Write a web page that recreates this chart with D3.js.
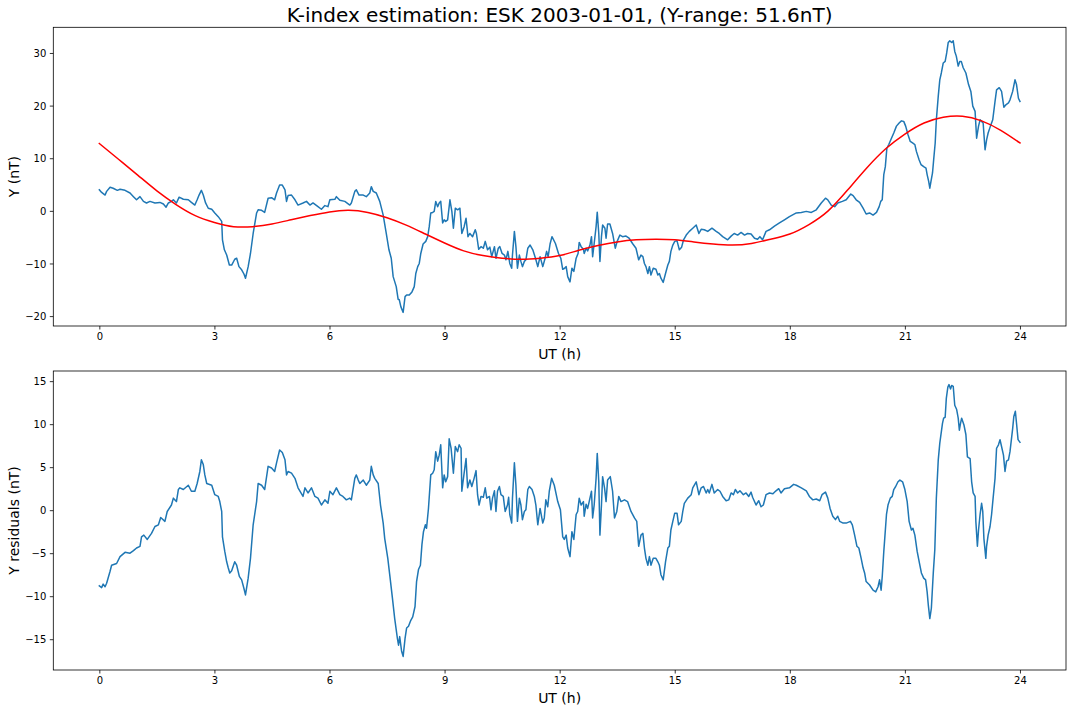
<!DOCTYPE html>
<html><head><meta charset="utf-8">
<script src="https://cdn.jsdelivr.net/npm/d3@7"></script>
<style>body{margin:0;background:#fff} text{font-family:"DejaVu Sans",sans-serif;fill:#000}</style>
</head><body><svg id="c" width="1072" height="712"></svg>
<script>
// ---- data (hour, value) ----
const titleText = "K-index estimation: ESK 2003-01-01, (Y-range: 51.6nT)";
const xTicks = [0,3,6,9,12,15,18,21,24];
const yTicksTop = [-20,-10,0,10,20,30];
const yTicksRes = [-15,-10,-5,0,5,10,15];

const observedY = [
[0,4.0],[0.06,3.5],[0.15,3.0],[0.19,3.7],[0.28,4.5],[0.36,4.3],[0.47,3.9],[0.54,4.1],[0.67,3.9],[0.8,3.4],[0.89,2.7],[0.97,2.1],[1.06,2.7],[1.15,1.8],[1.23,1.5],[1.32,1.8],[1.45,1.5],[1.58,1.6],[1.67,1.3],[1.74,0.7],[1.8,1.5],[1.88,1.8],[1.93,2.1],[2.01,1.5],[2.08,2.6],[2.19,2.2],[2.32,2.1],[2.4,1.6],[2.49,1.1],[2.55,2.1],[2.6,3.0],[2.66,3.9],[2.71,3.0],[2.77,1.5],[2.84,0.5],[2.93,0.3],[3.01,-0.4],[3.1,-1.1],[3.19,-2.0],[3.21,-5.5],[3.26,-7.4],[3.32,-8.4],[3.39,-10.3],[3.45,-10.3],[3.53,-9.2],[3.58,-9.0],[3.64,-10.6],[3.71,-11.2],[3.77,-12.0],[3.81,-12.8],[3.88,-10.6],[3.94,-8.1],[4.01,-4.3],[4.1,-0.4],[4.14,0.2],[4.23,0.1],[4.31,-0.3],[4.4,2.4],[4.49,2.5],[4.57,2.1],[4.62,3.4],[4.7,4.9],[4.77,4.9],[4.84,4.0],[4.88,1.8],[4.92,2.9],[5.01,3.0],[5.1,2.1],[5.18,1.1],[5.31,1.5],[5.4,1.8],[5.49,1.1],[5.57,1.5],[5.7,0.8],[5.79,0.3],[5.88,1.0],[5.96,0.8],[6.01,2.1],[6.14,2.2],[6.18,2.7],[6.27,2.0],[6.4,1.8],[6.53,1.1],[6.57,1.5],[6.66,3.7],[6.7,4.0],[6.77,3.0],[6.88,3.0],[6.96,2.7],[7.05,3.4],[7.09,4.6],[7.14,3.7],[7.22,3.4],[7.31,1.8],[7.4,-0.8],[7.48,-4.3],[7.55,-7.4],[7.61,-9.0],[7.66,-12.5],[7.74,-14.4],[7.79,-16.8],[7.82,-16.9],[7.86,-18.2],[7.92,-19.3],[7.97,-16.3],[8.01,-16.0],[8.08,-16.0],[8.15,-15.4],[8.21,-14.4],[8.25,-11.9],[8.3,-10.6],[8.34,-10.0],[8.38,-8.1],[8.44,-6.3],[8.51,-5.8],[8.56,-4.9],[8.6,-3.0],[8.64,-0.4],[8.69,-0.3],[8.73,-0.1],[8.77,1.8],[8.82,0.8],[8.86,1.5],[8.9,1.8],[8.95,-2.3],[8.99,-1.7],[9.03,-2.0],[9.08,-1.7],[9.14,2.1],[9.19,-0.1],[9.23,-3.3],[9.28,0.5],[9.34,0.2],[9.4,0.5],[9.45,-4.3],[9.51,-3.0],[9.56,-1.4],[9.61,-4.9],[9.66,-4.3],[9.73,-4.9],[9.8,-3.6],[9.83,-4.3],[9.89,-7.3],[9.95,-6.8],[10.01,-7.1],[10.06,-5.8],[10.12,-7.4],[10.18,-6.9],[10.23,-8.7],[10.3,-6.8],[10.34,-9.0],[10.4,-7.1],[10.44,-6.8],[10.5,-8.1],[10.56,-8.4],[10.6,-9.3],[10.65,-7.7],[10.7,-10.0],[10.75,-10.9],[10.77,-8.4],[10.82,-3.9],[10.86,-6.8],[10.9,-10.9],[10.95,-8.4],[10.99,-9.6],[11.03,-10.6],[11.08,-9.6],[11.12,-9.3],[11.17,-7.1],[11.23,-6.5],[11.3,-7.4],[11.37,-9.0],[11.43,-10.6],[11.49,-8.7],[11.56,-10.6],[11.61,-9.3],[11.66,-7.7],[11.7,-8.7],[11.75,-6.3],[11.8,-4.9],[11.89,-6.2],[11.97,-8.1],[12.03,-9.0],[12.08,-11.1],[12.13,-10.9],[12.17,-10.6],[12.21,-12.5],[12.27,-13.5],[12.32,-10.9],[12.37,-11.5],[12.43,-9.0],[12.48,-8.1],[12.51,-6.0],[12.56,-6.8],[12.62,-7.3],[12.64,-8.1],[12.69,-7.1],[12.73,-7.6],[12.79,-6.5],[12.83,-4.9],[12.86,-8.7],[12.9,-6.2],[12.95,-3.0],[12.98,-0.25],[13.02,-4.3],[13.05,-9.6],[13.09,-4.9],[13.12,-2.7],[13.18,-3.3],[13.21,-5.2],[13.25,-2.5],[13.31,-2.5],[13.38,-4.3],[13.45,-7.1],[13.5,-5.8],[13.57,-4.6],[13.64,-4.9],[13.73,-4.8],[13.81,-5.2],[13.9,-6.2],[13.99,-7.1],[14.06,-9.3],[14.12,-8.4],[14.17,-8.7],[14.21,-10.0],[14.25,-10.6],[14.3,-11.9],[14.34,-10.6],[14.38,-12.2],[14.44,-10.9],[14.51,-11.1],[14.56,-12.2],[14.6,-11.9],[14.64,-12.8],[14.7,-13.6],[14.76,-11.9],[14.82,-10.3],[14.86,-9.6],[14.9,-7.7],[14.95,-6.5],[15.0,-5.8],[15.06,-5.7],[15.12,-7.4],[15.18,-6.9],[15.23,-5.5],[15.3,-4.6],[15.38,-3.9],[15.47,-3.3],[15.56,-2.7],[15.63,-4.3],[15.69,-3.5],[15.77,-3.6],[15.86,-3.9],[15.97,-3.3],[16.08,-3.9],[16.16,-4.3],[16.25,-4.9],[16.38,-5.5],[16.47,-4.8],[16.55,-4.3],[16.64,-4.6],[16.73,-4.1],[16.82,-4.6],[16.9,-4.3],[16.99,-4.4],[17.08,-5.2],[17.16,-5.4],[17.22,-4.9],[17.29,-5.5],[17.38,-3.9],[17.47,-3.6],[17.6,-2.9],[17.73,-2.3],[17.86,-1.7],[17.99,-1.1],[18.17,-0.4],[18.3,-0.3],[18.43,-0.1],[18.56,-0.3],[18.69,0.2],[18.82,1.5],[18.93,2.4],[18.99,2.1],[19.08,1.1],[19.17,0.8],[19.25,1.5],[19.37,1.8],[19.47,2.1],[19.59,3.2],[19.65,2.9],[19.73,2.1],[19.82,1.6],[19.91,0.5],[19.99,-0.6],[20.08,-0.4],[20.17,-0.8],[20.26,-0.3],[20.33,0.8],[20.37,1.8],[20.41,2.1],[20.45,6.9],[20.49,8.4],[20.53,11.9],[20.58,12.6],[20.65,13.8],[20.71,14.8],[20.78,16.1],[20.85,16.7],[20.91,17.1],[20.97,17.0],[21.02,16.1],[21.08,14.5],[21.14,13.2],[21.2,12.9],[21.26,12.6],[21.3,11.3],[21.37,9.7],[21.42,8.8],[21.49,8.4],[21.55,8.1],[21.58,6.9],[21.62,5.6],[21.65,4.3],[21.68,5.6],[21.72,7.2],[21.75,9.7],[21.79,12.9],[21.82,17.3],[21.87,21.8],[21.91,24.9],[21.95,26.2],[22.0,28.1],[22.05,28.4],[22.09,30.0],[22.13,32.0],[22.17,32.3],[22.22,32.0],[22.26,32.3],[22.3,30.3],[22.34,29.4],[22.39,27.5],[22.43,28.4],[22.47,28.4],[22.52,27.2],[22.59,26.2],[22.66,24.0],[22.72,22.7],[22.77,19.9],[22.83,18.9],[22.87,13.8],[22.92,16.1],[22.96,17.3],[23.0,17.0],[23.04,16.7],[23.09,11.6],[23.13,13.5],[23.17,14.8],[23.23,16.1],[23.29,17.3],[23.35,20.8],[23.39,23.0],[23.46,23.4],[23.52,22.7],[23.58,19.7],[23.64,20.2],[23.7,20.5],[23.74,21.1],[23.81,22.7],[23.87,24.9],[23.91,24.0],[23.96,21.4],[24.0,20.8]
];

const fittedY = [
[0,12.8],[0.5,9.8],[1,6.8],[1.5,3.8],[2,1.2],[2.5,-0.9],[3,-2.2],[3.5,-3.0],[4,-3.0],[4.5,-2.5],[5,-1.7],[5.5,-0.9],[6,-0.2],[6.5,0.1],[7,-0.3],[7.5,-1.3],[8,-2.7],[8.5,-4.4],[9,-6.1],[9.5,-7.6],[10,-8.5],[10.5,-9.0],[11,-9.2],[11.5,-9.0],[12,-8.5],[12.5,-7.5],[13,-6.6],[13.5,-5.9],[14,-5.5],[14.5,-5.4],[15,-5.5],[15.5,-5.9],[16,-6.3],[16.5,-6.5],[17,-6.2],[17.5,-5.4],[18,-4.4],[18.5,-2.6],[19,0.0],[19.5,3.9],[20,8.1],[20.5,11.8],[21,14.6],[21.5,16.7],[22,17.8],[22.5,18.0],[23,17.1],[23.5,15.3],[24,12.9]
];

const residualY = [
[0,-8.8],[0.06,-9.0],[0.1,-8.6],[0.15,-8.9],[0.19,-8.5],[0.28,-7.1],[0.32,-6.4],[0.45,-6.2],[0.54,-5.4],[0.67,-4.9],[0.8,-5.0],[0.89,-4.7],[0.97,-4.4],[1.06,-4.2],[1.1,-3.1],[1.16,-2.9],[1.25,-3.4],[1.36,-2.7],[1.45,-1.9],[1.54,-1.7],[1.6,-0.85],[1.71,-1.3],[1.77,-0.15],[1.88,0.6],[1.93,1.4],[2.01,1.0],[2.06,2.4],[2.1,2.6],[2.19,2.4],[2.32,2.9],[2.4,2.2],[2.49,2.2],[2.55,3.1],[2.62,4.5],[2.66,5.85],[2.71,5.3],[2.75,4.1],[2.8,3.1],[2.93,2.9],[3.01,1.8],[3.1,1.6],[3.14,1.0],[3.19,-0.15],[3.21,-3.1],[3.27,-4.8],[3.32,-6.0],[3.36,-6.7],[3.4,-7.3],[3.45,-7.05],[3.53,-6.0],[3.58,-6.4],[3.65,-7.7],[3.71,-8.1],[3.77,-9.1],[3.81,-9.85],[3.88,-7.9],[3.94,-5.6],[4.01,-1.7],[4.1,1.0],[4.14,3.1],[4.23,2.9],[4.31,2.4],[4.4,5.1],[4.49,4.9],[4.57,4.5],[4.62,5.5],[4.7,7.0],[4.77,6.7],[4.84,5.85],[4.88,4.1],[4.92,4.5],[5.01,4.3],[5.1,3.7],[5.18,2.6],[5.31,1.6],[5.36,2.6],[5.44,2.0],[5.53,2.6],[5.62,1.6],[5.7,1.4],[5.79,0.6],[5.88,1.2],[5.96,0.8],[6.01,2.2],[6.09,1.8],[6.18,2.6],[6.27,1.8],[6.35,1.6],[6.44,1.2],[6.53,1.4],[6.57,1.2],[6.66,3.7],[6.7,4.1],[6.75,3.5],[6.79,3.1],[6.88,3.5],[6.96,2.9],[7.05,3.5],[7.09,5.1],[7.14,4.1],[7.18,3.7],[7.27,3.1],[7.33,0.6],[7.4,-1.5],[7.44,-3.3],[7.52,-5.6],[7.57,-7.5],[7.64,-10.2],[7.7,-12.6],[7.77,-14.9],[7.8,-15.7],[7.83,-14.7],[7.88,-16.4],[7.92,-17.0],[7.97,-14.9],[8.01,-13.7],[8.06,-13.5],[8.12,-12.8],[8.17,-12.4],[8.23,-11.2],[8.27,-8.3],[8.32,-6.9],[8.37,-6.4],[8.41,-4.0],[8.45,-2.5],[8.5,-1.7],[8.53,-2.1],[8.58,0.2],[8.64,4.1],[8.69,4.3],[8.73,4.7],[8.77,6.8],[8.82,5.7],[8.86,6.4],[8.9,7.6],[8.95,2.6],[8.99,4.1],[9.03,3.3],[9.08,3.9],[9.12,8.3],[9.17,7.2],[9.23,4.3],[9.28,7.4],[9.34,6.8],[9.38,7.6],[9.43,7.2],[9.45,2.2],[9.51,4.3],[9.56,6.0],[9.6,2.6],[9.66,3.5],[9.71,2.75],[9.77,3.7],[9.82,4.6],[9.86,1.8],[9.9,0.6],[9.95,1.6],[10.01,1.5],[10.06,2.6],[10.1,1.4],[10.17,1.6],[10.21,0.04],[10.25,1.4],[10.3,2.25],[10.34,-0.15],[10.38,2.2],[10.43,2.75],[10.47,1.8],[10.53,1.6],[10.58,-0.15],[10.64,0.6],[10.67,1.5],[10.7,-0.5],[10.75,-1.5],[10.77,1.4],[10.82,5.5],[10.86,2.9],[10.9,-1.3],[10.95,1.4],[10.99,0.6],[11.03,-1.1],[11.08,-0.15],[11.12,0.04],[11.17,2.4],[11.21,2.75],[11.28,2.4],[11.34,1.6],[11.38,0.6],[11.43,-1.7],[11.49,0.2],[11.56,-1.5],[11.6,-0.9],[11.64,1.2],[11.69,0.4],[11.73,2.2],[11.79,3.7],[11.86,2.9],[11.95,1.0],[12.02,0.04],[12.08,-3.1],[12.12,-3.4],[12.17,-2.9],[12.21,-4.4],[12.27,-5.4],[12.32,-2.5],[12.37,-3.4],[12.43,-0.5],[12.47,-0.15],[12.51,1.4],[12.56,0.6],[12.62,1.0],[12.64,-0.7],[12.69,0.7],[12.73,0.2],[12.77,1.0],[12.83,2.2],[12.86,-0.9],[12.9,0.6],[12.95,3.7],[12.98,6.6],[13.02,3.3],[13.05,-2.9],[13.09,0.6],[13.12,3.9],[13.17,2.6],[13.21,1.0],[13.25,3.5],[13.32,3.9],[13.38,2.2],[13.43,-0.9],[13.49,-0.15],[13.54,1.6],[13.6,1.0],[13.69,1.2],[13.77,1.0],[13.86,-0.15],[13.95,-0.9],[14.01,-1.3],[14.06,-4.2],[14.12,-2.9],[14.17,-2.7],[14.21,-4.4],[14.25,-5.6],[14.3,-6.4],[14.34,-5.4],[14.38,-6.4],[14.44,-5.6],[14.51,-5.6],[14.56,-6.0],[14.6,-6.4],[14.64,-7.5],[14.7,-8.1],[14.76,-6.0],[14.82,-4.4],[14.86,-4.2],[14.9,-2.3],[14.95,-1.3],[15.0,-0.35],[15.06,-0.35],[15.1,-1.7],[15.17,-1.3],[15.21,-0.15],[15.25,0.8],[15.34,1.4],[15.43,1.8],[15.47,2.6],[15.56,3.3],[15.63,1.8],[15.69,2.6],[15.75,2.75],[15.82,2.0],[15.86,2.4],[15.9,2.0],[15.97,3.0],[16.03,2.0],[16.12,2.4],[16.18,2.2],[16.25,1.6],[16.34,1.1],[16.41,1.2],[16.47,2.0],[16.53,1.8],[16.58,2.4],[16.64,2.0],[16.7,2.25],[16.79,1.8],[16.86,2.0],[16.93,1.6],[16.99,2.1],[17.03,1.5],[17.12,0.6],[17.19,1.1],[17.25,0.4],[17.31,0.6],[17.38,1.8],[17.47,2.0],[17.56,1.9],[17.64,2.25],[17.71,2.5],[17.77,2.0],[17.86,2.5],[17.99,2.6],[18.1,3.0],[18.17,2.9],[18.3,2.6],[18.43,2.25],[18.51,1.6],[18.6,1.2],[18.69,1.3],[18.78,1.1],[18.84,1.8],[18.93,2.1],[18.99,1.4],[19.05,0.2],[19.12,-0.7],[19.19,-1.1],[19.25,-0.7],[19.3,-1.3],[19.39,-1.5],[19.47,-1.5],[19.58,-1.3],[19.63,-1.7],[19.69,-2.9],[19.75,-4.2],[19.8,-4.4],[19.86,-5.6],[19.91,-6.7],[19.95,-7.3],[19.99,-8.3],[20.08,-8.7],[20.17,-9.3],[20.24,-9.5],[20.3,-8.9],[20.34,-8.1],[20.38,-9.3],[20.41,-7.7],[20.45,-4.8],[20.47,-3.6],[20.52,-0.5],[20.56,0.6],[20.62,1.4],[20.67,1.6],[20.71,2.4],[20.76,2.75],[20.82,3.3],[20.87,3.5],[20.94,3.3],[21.0,2.4],[21.06,1.0],[21.11,-1.3],[21.17,-2.3],[21.21,-2.1],[21.26,-2.9],[21.32,-4.8],[21.39,-6.4],[21.43,-7.3],[21.49,-7.9],[21.54,-8.1],[21.58,-9.5],[21.61,-11.0],[21.65,-12.6],[21.69,-11.4],[21.74,-7.3],[21.78,-4.6],[21.82,1.4],[21.87,5.85],[21.91,7.8],[21.98,10.1],[22.01,10.7],[22.05,10.8],[22.08,13.0],[22.12,14.3],[22.15,14.6],[22.19,14.1],[22.22,14.5],[22.26,14.4],[22.3,12.2],[22.35,11.7],[22.39,10.7],[22.42,9.3],[22.45,10.1],[22.48,10.7],[22.54,9.9],[22.59,8.8],[22.63,6.2],[22.7,6.0],[22.74,3.3],[22.78,2.0],[22.83,1.6],[22.85,-1.3],[22.89,-4.2],[22.92,-2.3],[22.96,-0.5],[23.0,0.8],[23.03,-0.15],[23.06,-3.3],[23.11,-5.6],[23.13,-4.2],[23.17,-2.9],[23.22,-1.9],[23.26,-0.5],[23.3,1.4],[23.35,3.7],[23.39,7.2],[23.44,7.6],[23.48,8.2],[23.53,7.2],[23.57,6.4],[23.61,4.5],[23.65,5.7],[23.7,5.85],[23.74,6.8],[23.81,9.5],[23.84,10.9],[23.88,11.5],[23.91,10.1],[23.95,8.2],[24.0,7.9]
];

// ---- drawing ----
const svg = d3.select("#c");
svg.append("rect").attr("width",1072).attr("height",712).attr("fill","#fff");

const L = 53.3, R = 1066;
const x = d3.scaleLinear().domain([-1.2, 25.2]).range([L, R]);

function padded(vals){
  const [a,b] = d3.extent(vals); const m = (b-a)*0.05; return [a-m, b+m];
}

function panel(top, bottom, series, yTicks, ylabel){
  const allVals = series.flatMap(s => s.data.map(d => d[1]));
  const y = d3.scaleLinear().domain(padded(allVals)).range([bottom, top]);
  const g = svg.append("g");
  const clipId = "clip" + Math.round(top);
  svg.append("clipPath").attr("id", clipId).append("rect")
    .attr("x", L).attr("y", top).attr("width", R-L).attr("height", bottom-top);
  const lines = g.append("g").attr("clip-path", `url(#${clipId})`);
  series.forEach(s => {
    lines.append("path").datum(s.data)
      .attr("fill","none").attr("stroke", s.color).attr("stroke-width",1.5)
      .attr("stroke-linejoin","round").attr("stroke-linecap","square")
      .attr("d", d3.line().x(d=>x(d[0])).y(d=>y(d[1])).curve(s.curve || d3.curveLinear));
  });
  const xa = g.append("g").attr("transform",`translate(0,${bottom})`)
    .call(d3.axisBottom(x).tickValues(xTicks).tickSize(3.5).tickPadding(3.5).tickSizeOuter(0));
  const ya = g.append("g").attr("transform",`translate(${L},0)`)
    .call(d3.axisLeft(y).tickValues(yTicks).tickSize(3.5).tickPadding(3.5).tickSizeOuter(0));
  [xa, ya].forEach(a => {
    a.select(".domain").remove();
    a.selectAll(".tick line").attr("stroke","#000").attr("stroke-width",0.8);
    a.selectAll(".tick text").attr("font-size",10).attr("font-family","DejaVu Sans").attr("fill","#000");
  });
  ya.selectAll(".tick text").attr("dy","0.36em");
  g.append("rect").attr("x",L).attr("y",top).attr("width",R-L).attr("height",bottom-top)
    .attr("fill","none").attr("stroke","#000").attr("stroke-width",0.8);
  g.append("text").attr("x",(L+R)/2).attr("y",bottom+33).attr("text-anchor","middle")
    .attr("font-size",14).text("UT (h)");
  g.append("text").attr("transform",`translate(19.3,${(top+bottom)/2}) rotate(-90)`)
    .attr("text-anchor","middle").attr("font-size",14).text(ylabel);
}

panel(27.3, 326, [
  {data: observedY, color: "#1f77b4"},
  {data: fittedY, color: "#ff0000", curve: d3.curveNatural}
], yTicksTop, "Y (nT)");

panel(371, 670, [
  {data: residualY, color: "#1f77b4"}
], yTicksRes, "Y residuals (nT)");

svg.append("text").attr("x",(L+R)/2).attr("y",22).attr("text-anchor","middle")
  .attr("font-size",20).text(titleText);
</script></body></html>
